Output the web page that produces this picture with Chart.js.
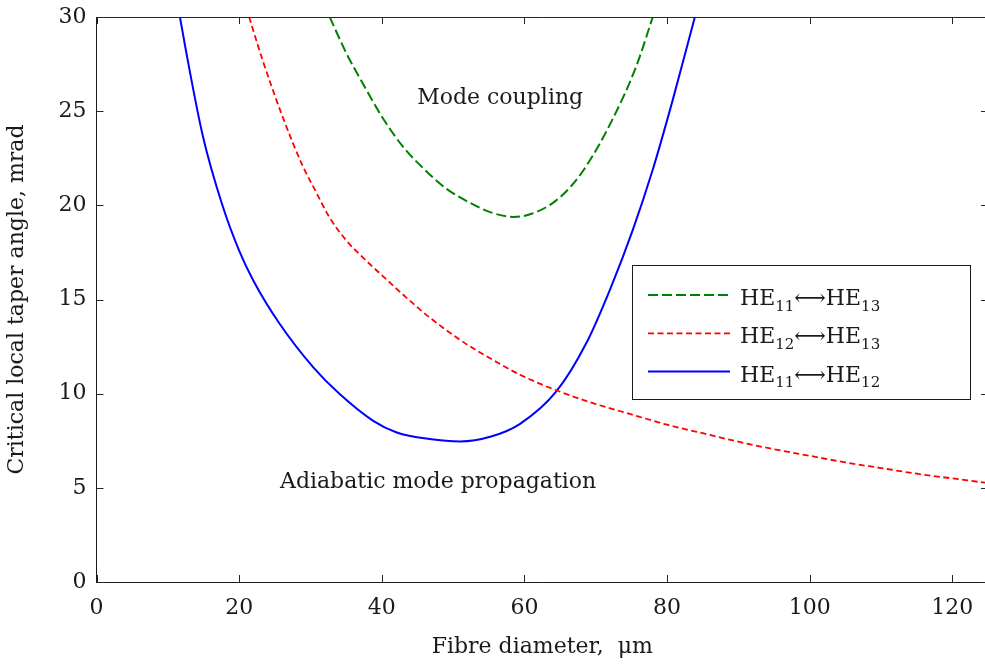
<!DOCTYPE html>
<html>
<head>
<meta charset="utf-8">
<title>Critical local taper angle</title>
<script src="https://cdn.jsdelivr.net/npm/chart.js@4.4.1/dist/chart.umd.min.js"></script>
<style>
html, body { margin: 0; padding: 0; overflow: hidden; background: #fff; }
</style>
</head>
<body>
<canvas id="taper-chart" width="990" height="664"></canvas>
<script>
const FONT = '"DejaVu Serif", "Liberation Serif", serif';
const INK = '#1a1a1a';

// fibre diameter (um) against critical local taper angle (mrad), one pair per mode coupling
const he11he13X = [32.7, 35, 37.3, 40.2, 43, 46, 49, 52.8, 55.5, 58.5, 61, 64, 66.5, 68.7, 72.4, 75.7, 78];
const he11he13Y = [30, 28.1, 26.5, 24.6, 23.1, 21.9, 20.9, 20.05, 19.6, 19.38, 19.55, 20.13, 21.0, 22.1, 24.6, 27.4, 30];

const he12he13X = [21.4, 23.3, 26.1, 28.9, 30.8, 32.6, 35, 37.3, 40.7, 43, 46.7, 51.4, 56, 59.4, 65, 70, 75, 80, 85, 90, 95, 100, 105, 110, 115, 120, 125];
const he12he13Y = [30, 27.7, 24.7, 22.1, 20.7, 19.4, 18.15, 17.25, 16.05, 15.25, 14.05, 12.75, 11.7, 11.0, 10.1, 9.45, 8.9, 8.35, 7.9, 7.45, 7.05, 6.7, 6.35, 6.05, 5.75, 5.5, 5.25];

const he11he12X = [11.7, 12.5, 14.9, 17.7, 20, 22, 25.7, 30.4, 34.1, 38.8, 42.1, 46.7, 51, 55.2, 59.4, 64.5, 68.7, 72, 75.2, 78, 80.8, 83.9];
const he11he12Y = [30, 28.3, 23.7, 19.95, 17.6, 16.0, 13.7, 11.4, 9.98, 8.56, 7.94, 7.59, 7.46, 7.71, 8.4, 10.13, 12.7, 15.53, 18.7, 21.9, 25.6, 30];

const seriesNames = ['HE_{11}⟷HE_{13}', 'HE_{12}⟷HE_{13}', 'HE_{11}⟷HE_{12}'];

const xTickValues = [0, 20, 40, 60, 80, 100, 120];
const yTickValues = [0, 5, 10, 15, 20, 25, 30];

const regionLabels = ['Mode coupling', 'Adiabatic mode propagation'];
const regionLabelX = [56.6, 47.9];
const regionLabelY = [25.4, 5.0];

function toPoints(xs, ys) {
    return xs.map((x, i) => ({ x: x, y: ys[i] }));
}

function series(label, xs, ys, color, width, dash) {
    return {
        label: label,
        data: toPoints(xs, ys),
        borderColor: color,
        borderWidth: width,
        borderDash: dash,
        pointRadius: 0,
        fill: false,
        cubicInterpolationMode: 'monotone',
        clip: 0
    };
}

// split "HE_{11}" style names into plain and subscript runs
function splitName(name) {
    const parts = [];
    const re = /_\{([^}]*)\}/g;
    let last = 0, m;
    while ((m = re.exec(name)) !== null) {
        if (m.index > last) parts.push({ text: name.slice(last, m.index), sub: false });
        parts.push({ text: m[1], sub: true });
        last = re.lastIndex;
    }
    if (last < name.length) parts.push({ text: name.slice(last), sub: false });
    return parts;
}

const boxTicks = {
    id: 'boxTicks',
    afterDatasetsDraw(chart) {
        const ctx = chart.ctx;
        const { left, right, top, bottom } = chart.chartArea;
        const xs = chart.scales.x, ys = chart.scales.y;
        const len = 7;
        ctx.save();
        ctx.strokeStyle = '#262626';
        ctx.lineWidth = 1;
        ctx.beginPath();
        ctx.moveTo(left, Math.round(top) + 0.5);
        ctx.lineTo(right, Math.round(top) + 0.5);
        ctx.moveTo(Math.round(right) - 0.5, top);
        ctx.lineTo(Math.round(right) - 0.5, bottom);
        xTickValues.forEach(v => {
            const px = Math.round(xs.getPixelForValue(v)) + 0.5;
            ctx.moveTo(px, bottom);
            ctx.lineTo(px, bottom - len);
            ctx.moveTo(px, top);
            ctx.lineTo(px, top + len);
        });
        yTickValues.forEach(v => {
            const py = Math.round(ys.getPixelForValue(v)) + 0.5;
            ctx.moveTo(left, py);
            ctx.lineTo(left + len, py);
            ctx.moveTo(right, py);
            ctx.lineTo(right - len, py);
        });
        ctx.stroke();

        // region names inside the plot
        ctx.fillStyle = INK;
        ctx.font = '22px ' + FONT;
        ctx.textAlign = 'center';
        ctx.textBaseline = 'alphabetic';
        regionLabels.forEach((t, i) => {
            ctx.fillText(t, xs.getPixelForValue(regionLabelX[i]), ys.getPixelForValue(regionLabelY[i]));
        });
        ctx.restore();
    }
};

const boxLegend = {
    id: 'boxLegend',
    afterDraw(chart, args, opts) {
        const ctx = chart.ctx;
        const b = opts.box;
        ctx.save();
        ctx.fillStyle = '#fff';
        ctx.fillRect(b.left, b.top, b.right - b.left, b.bottom - b.top);
        ctx.strokeStyle = '#1a1a1a';
        ctx.lineWidth = 1;
        ctx.strokeRect(b.left + 0.5, b.top + 0.5, b.right - b.left, b.bottom - b.top);

        chart.data.datasets.forEach((ds, i) => {
            const y = opts.firstRow + i * opts.rowGap;
            ctx.beginPath();
            ctx.strokeStyle = ds.borderColor;
            ctx.lineWidth = ds.borderWidth;
            ctx.setLineDash(ds.borderDash || []);
            ctx.moveTo(opts.lineStart, y);
            ctx.lineTo(opts.lineEnd, y);
            ctx.stroke();
            ctx.setLineDash([]);

            let x = opts.textStart;
            const base = y + 10;
            ctx.fillStyle = INK;
            ctx.textAlign = 'left';
            ctx.textBaseline = 'alphabetic';
            splitName(ds.label).forEach(p => {
                ctx.font = (p.sub ? '15px ' : '22px ') + FONT;
                ctx.fillText(p.text, x, p.sub ? base + 5.5 : base);
                x += ctx.measureText(p.text).width;
            });
        });
        ctx.restore();
    }
};

new Chart(document.getElementById('taper-chart'), {
    type: 'line',
    data: {
        datasets: [
            series(seriesNames[0], he11he13X, he11he13Y, '#008000', 2, [10, 4]),
            series(seriesNames[1], he12he13X, he12he13Y, '#ff0000', 1.8, [6, 3.5]),
            series(seriesNames[2], he11he12X, he11he12Y, '#0000ff', 2, [])
        ]
    },
    options: {
        responsive: false,
        animation: false,
        events: [],
        layout: { padding: { top: 17, right: 2, left: 0, bottom: 0 } },
        scales: {
            x: {
                type: 'linear',
                min: 0,
                max: 125,
                afterBuildTicks: s => { s.ticks = xTickValues.map(v => ({ value: v })); },
                afterFit: s => {
                    s.height = 82;
                    s.paddingLeft = 0;
                    s.paddingRight = 0;
                },
                grid: { display: false, drawTicks: false },
                border: { display: true, color: '#1a1a1a', width: 1 },
                ticks: { font: { family: FONT, size: 22 }, color: INK, padding: 13, maxRotation: 0 },
                title: {
                    display: true,
                    text: 'Fibre diameter,  μm',
                    font: { family: FONT, size: 22 },
                    color: INK,
                    padding: { top: 0, bottom: 4 }
                }
            },
            y: {
                type: 'linear',
                min: 0,
                max: 30,
                afterBuildTicks: s => { s.ticks = yTickValues.map(v => ({ value: v })); },
                afterFit: s => {
                    s.width = 96.5;
                    s.paddingTop = 0;
                    s.paddingBottom = 0;
                },
                grid: { display: false, drawTicks: false },
                border: { display: true, color: '#1a1a1a', width: 1 },
                ticks: { font: { family: FONT, size: 22 }, color: INK, padding: 10 },
                title: {
                    display: true,
                    text: 'Critical local taper angle, mrad',
                    font: { family: FONT, size: 22 },
                    color: INK,
                    padding: { top: 4, bottom: 0 }
                }
            }
        },
        plugins: {
            legend: { display: false },
            tooltip: { enabled: false },
            boxLegend: {
                box: { left: 632, top: 265, right: 970, bottom: 399 },
                firstRow: 295,
                rowGap: 38.3,
                lineStart: 648,
                lineEnd: 730,
                textStart: 740
            }
        }
    },
    plugins: [boxTicks, boxLegend]
});
</script>
</body>
</html>
